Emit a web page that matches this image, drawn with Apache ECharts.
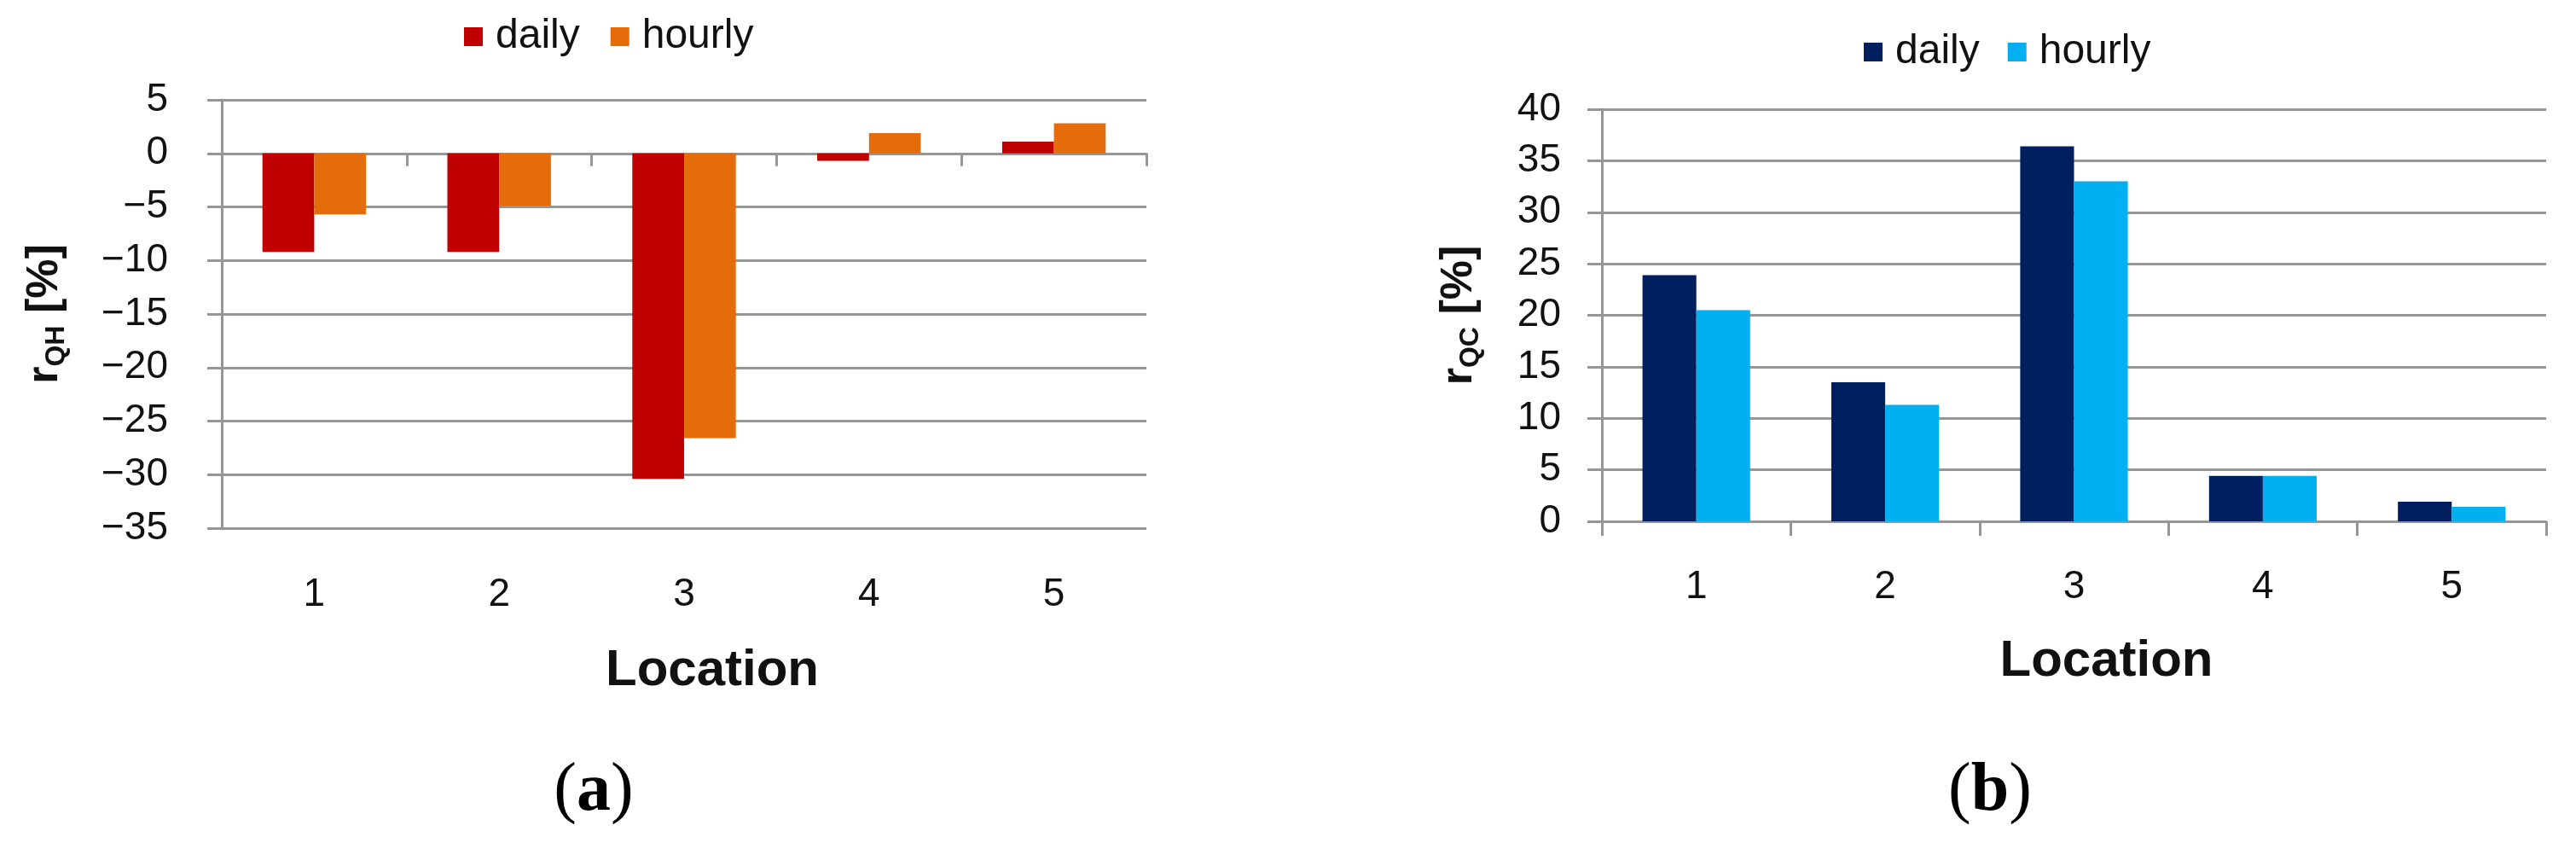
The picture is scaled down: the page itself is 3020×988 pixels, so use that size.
<!DOCTYPE html>
<html>
<head>
<meta charset="utf-8">
<script src="https://cdn.jsdelivr.net/npm/echarts@6/dist/echarts.min.js"></script>
<style>
  html, body { margin: 0; padding: 0; background: #fff; }
  #chart { width: 3020px; height: 988px; }
</style>
</head>
<body>
<div id="chart"></div>
<script>
// ---- data ----
const categories = ['1', '2', '3', '4', '5'];
const qhDaily  = [-9.2, -9.2, -30.4, -0.7, 1.1];
const qhHourly = [-5.7, -4.9, -26.6, 1.9, 2.8];
const qcDaily  = [23.9, 13.5, 36.4, 4.4, 1.9];
const qcHourly = [20.5, 11.3, 33.0, 4.4, 1.4];
const qhAxis = { min: -35, max: 5, interval: 5 };
const qcAxis = { min: 0, max: 40, interval: 5 };
const seriesNamesA = ['daily', 'hourly'];
const seriesNamesB = ['daily ', 'hourly '];
const panelLabels = ['a', 'b'];

// ---- style ----
const GRID_COLOR = '#969696';
const SANS = 'Liberation Sans, Arial, sans-serif';
const SERIF = 'Liberation Serif, Times New Roman, serif';
const colA = ['#C00000', '#E46C0A'];
const colB = ['#001F5F', '#00B0F0'];

const fmtTick = v => String(v).replace('-', '\u2212');

function yAxisCfg(grid, range, nameSub, gap, labelMargin) {
  return {
    type: 'value', gridIndex: grid,
    min: range.min, max: range.max, interval: range.interval,
    axisLine: { show: true, lineStyle: { color: GRID_COLOR, width: 3 } },
    axisTick: { show: true, length: 17, lineStyle: { color: GRID_COLOR, width: 3 } },
    splitLine: { show: true, lineStyle: { color: GRID_COLOR, width: 3 } },
    axisLabel: { fontFamily: SANS, fontSize: 46, color: '#111', margin: labelMargin, formatter: fmtTick },
    name: '{r|r}{s|' + nameSub + '}{r| [%]}',
    nameLocation: 'middle', nameGap: gap,
    nameTextStyle: {
      rich: {
        r: { fontFamily: SANS, fontWeight: 'bold', fontSize: 52, color: '#111', lineHeight: 58 },
        s: { fontFamily: SANS, fontWeight: 'bold', fontSize: 32, color: '#111', lineHeight: 40, verticalAlign: 'bottom' }
      }
    }
  };
}

const option = {
  backgroundColor: '#fff',
  animation: false,
  grid: [
    { left: 260, top: 117, width: 1084, height: 502 },
    { left: 1878, top: 128, width: 1107, height: 483 }
  ],
  legend: [
    {
      data: seriesNamesA, left: 539, top: 14, icon: 'rect', itemWidth: 22, itemHeight: 22, itemGap: 36,
      textStyle: { fontFamily: SANS, fontSize: 48, color: '#111', padding: [0, 0, 0, 10] }
    },
    {
      data: seriesNamesB, left: 2180, top: 32, icon: 'rect', itemWidth: 22, itemHeight: 22, itemGap: 33,
      formatter: n => n.trim(),
      textStyle: { fontFamily: SANS, fontSize: 48, color: '#111', padding: [0, 0, 0, 10] }
    }
  ],
  xAxis: [
    { // (a) labels at bottom
      type: 'category', gridIndex: 0, data: categories, position: 'bottom',
      axisLine: { show: false, onZero: false }, axisTick: { show: false },
      axisLabel: { fontFamily: SANS, fontSize: 46, color: '#111', margin: 55 },
      name: 'Location', nameLocation: 'middle', nameGap: 137,
      nameTextStyle: { fontFamily: SANS, fontWeight: 'bold', fontSize: 60, color: '#111', padding: [0, 0, 0, 66] }
    },
    { // (a) axis line at zero
      type: 'category', gridIndex: 0, data: categories, position: 'bottom',
      axisLine: { show: true, onZero: true, lineStyle: { color: GRID_COLOR, width: 3 } },
      axisTick: { show: true, length: 15, lineStyle: { color: GRID_COLOR, width: 3 } },
      axisLabel: { show: false }
    },
    { // (b)
      type: 'category', gridIndex: 1, data: categories, position: 'bottom',
      axisLine: { show: true, onZero: true, lineStyle: { color: GRID_COLOR, width: 3 } },
      axisTick: { show: true, length: 17, lineStyle: { color: GRID_COLOR, width: 3 } },
      axisLabel: { fontFamily: SANS, fontSize: 46, color: '#111', margin: 54 },
      name: 'Location', nameLocation: 'middle', nameGap: 134,
      nameTextStyle: { fontFamily: SANS, fontWeight: 'bold', fontSize: 60, color: '#111', padding: [0, 0, 0, 76] }
    }
  ],
  yAxis: [
    yAxisCfg(0, qhAxis, 'QH', 178, 63),
    yAxisCfg(1, qcAxis, 'QC', 138, 48)
  ],
  series: [
    { name: seriesNamesA[0], type: 'bar', xAxisIndex: 0, yAxisIndex: 0, data: qhDaily,
      barGap: '0%', barCategoryGap: '44%', itemStyle: { color: colA[0] } },
    { name: seriesNamesA[1], type: 'bar', xAxisIndex: 0, yAxisIndex: 0, data: qhHourly,
      barGap: '0%', barCategoryGap: '44%', itemStyle: { color: colA[1] } },
    { name: seriesNamesB[0], type: 'bar', xAxisIndex: 2, yAxisIndex: 1, data: qcDaily,
      barGap: '0%', barCategoryGap: '43%', itemStyle: { color: colB[0] } },
    { name: seriesNamesB[1], type: 'bar', xAxisIndex: 2, yAxisIndex: 1, data: qcHourly,
      barGap: '0%', barCategoryGap: '43%', itemStyle: { color: colB[1] } }
  ],
  graphic: [
    { type: 'text', x: 696, y: 928,
      style: { text: '{p|(}{b|' + panelLabels[0] + '}{p|)}', textAlign: 'center', textVerticalAlign: 'middle',
        rich: { p: { fontFamily: SERIF, fontSize: 80, fill: '#000' }, b: { fontFamily: SERIF, fontSize: 80, fontWeight: 'bold', fill: '#000' } } } },
    { type: 'text', x: 2333, y: 928,
      style: { text: '{p|(}{b|' + panelLabels[1] + '}{p|)}', textAlign: 'center', textVerticalAlign: 'middle',
        rich: { p: { fontFamily: SERIF, fontSize: 80, fill: '#000' }, b: { fontFamily: SERIF, fontSize: 80, fontWeight: 'bold', fill: '#000' } } } }
  ]
};

const chart = echarts.init(document.getElementById('chart'), null, { renderer: 'canvas' });
chart.setOption(option);
</script>
</body>
</html>
